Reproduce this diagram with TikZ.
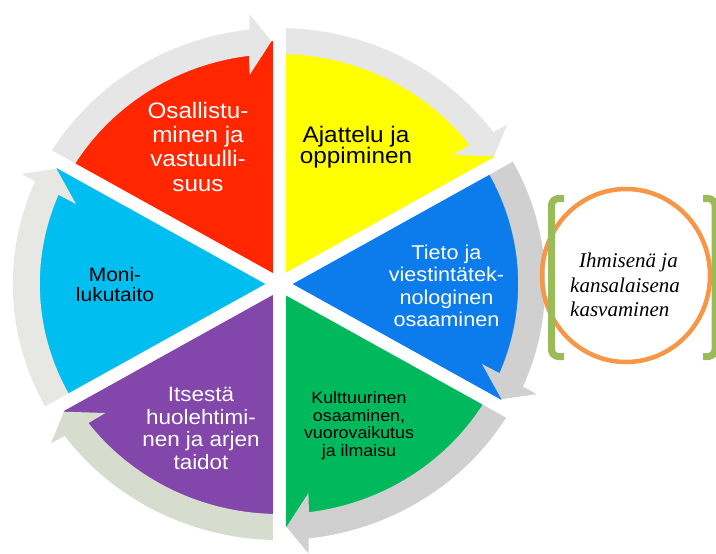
\documentclass[tikz,border=0pt]{standalone}
\usepackage{fontspec}
\newfontfamily\wheelfont{Liberation Sans}[FakeStretch=1.08]
\newfontfamily\circfont{Liberation Serif}
\definecolor{wred}{RGB}{255,38,0}
\definecolor{wyellow}{RGB}{255,255,0}
\definecolor{wblue}{RGB}{12,124,236}
\definecolor{wgreen}{RGB}{0,185,92}
\definecolor{wpurple}{RGB}{131,71,172}
\definecolor{wcyan}{RGB}{0,190,240}
\definecolor{bandA}{RGB}{230,230,230}
\definecolor{bandB}{RGB}{208,208,208}
\definecolor{bandC}{RGB}{214,221,207}
\definecolor{bandD}{RGB}{231,231,228}
\definecolor{ringorange}{RGB}{247,150,70}
\definecolor{brgreen}{RGB}{155,187,89}
\newcommand{\cstack}[1]{\vtop{\lineskiplimit=-50pt\halign{\hfil##\hfil\cr#1\crcr}}}
\newcommand{\lstack}[1]{\vtop{\lineskiplimit=-50pt\halign{##\hfil\cr#1\crcr}}}
% #1 start angle, #2 wedge colour, #3 band colour
\newcommand{\wheelsector}[3]{%
  \fill[#2] (0,0) -- plot[domain=#1:#1+60, samples=40] (\x:243) -- cycle;
  \fill[#3] plot[domain=#1+60:#1+6.4, samples=40] (\x:256)
     -- (#1+6:271) -- (#1+1.7:243) -- (#1+7.7:211) -- (#1+7.2:230)
     -- plot[domain=#1+7.2:#1+60, samples=40] (\x:230) -- cycle;
}
\tikzset{
  gapline/.style={draw=white, line width=13pt},
  lbl/.style={anchor=base, inner sep=0pt},
  bracket/.style={draw=brgreen, line width=7pt, rounded corners=7pt},
}
\begin{document}
\begin{tikzpicture}[x=1pt, y=-1pt]
\useasboundingbox (0,0) rectangle (716,554);
\clip (0,0) rectangle (716,554);
\begin{scope}[shift={(279,284)}, x=1.04pt, y=1pt]
  \wheelsector{90}{wred}{bandA}
  \wheelsector{30}{wyellow}{bandA}
  \wheelsector{-30}{wblue}{bandB}
  \wheelsector{-90}{wgreen}{bandB}
  \wheelsector{-150}{wpurple}{bandC}
  \wheelsector{150}{wcyan}{bandD}
  \foreach \a in {30,90,150,210,270,330}
    \draw[gapline] (0,0) -- (\a:290);
\end{scope}
\node[lbl] (tyel) at (356,142.3) {\fontsize{22.5}{21}\selectfont\wheelfont\cstack{Ajattelu ja\cr oppiminen}};
\node[lbl, text=white] (tred) at (198,118.3) {\fontsize{22.4}{24.3}\selectfont\wheelfont\cstack{Osallistu-\cr minen ja\cr vastuulli-\cr suus}};
\node[lbl, text=white] (tblue) at (446.5,259.3) {\fontsize{20}{22.5}\selectfont\wheelfont\cstack{Tieto ja\cr viestintätek-\cr nologinen\cr osaaminen}};
\node[lbl] (tgreen) at (359,403.3) {\fontsize{16.5}{17.7}\selectfont\wheelfont\cstack{Kulttuurinen\cr osaaminen,\cr vuorovaikutus\cr ja ilmaisu}};
\node[lbl, text=white] (tpurple) at (201,401.7) {\fontsize{20.8}{22.5}\selectfont\wheelfont\cstack{Itsestä\cr huolehtimi-\cr nen ja arjen\cr taidot}};
\node[lbl] (tcyan) at (115,281) {\fontsize{19.4}{20.7}\selectfont\wheelfont\cstack{Moni-\cr lukutaito}};
% right-hand ring and brackets
\draw[ringorange, line width=4.5pt] (626,275.5) ellipse [x radius=84pt, y radius=86.5pt];
\draw[bracket] (564,198.5) -- (551.5,198.5) -- (551.5,356.5) -- (564,356.5);
\draw[bracket] (703,198.5) -- (715,198.5) -- (715,356.5) -- (703,356.5);
\node[lbl, anchor=base west] (ctext) at (570,267.3) {\fontsize{21}{24.7}\selectfont\circfont\itshape\lstack{\hspace{9pt}Ihmisenä ja\cr kansalaisena\cr kasvaminen}};
\end{tikzpicture}
\end{document}
